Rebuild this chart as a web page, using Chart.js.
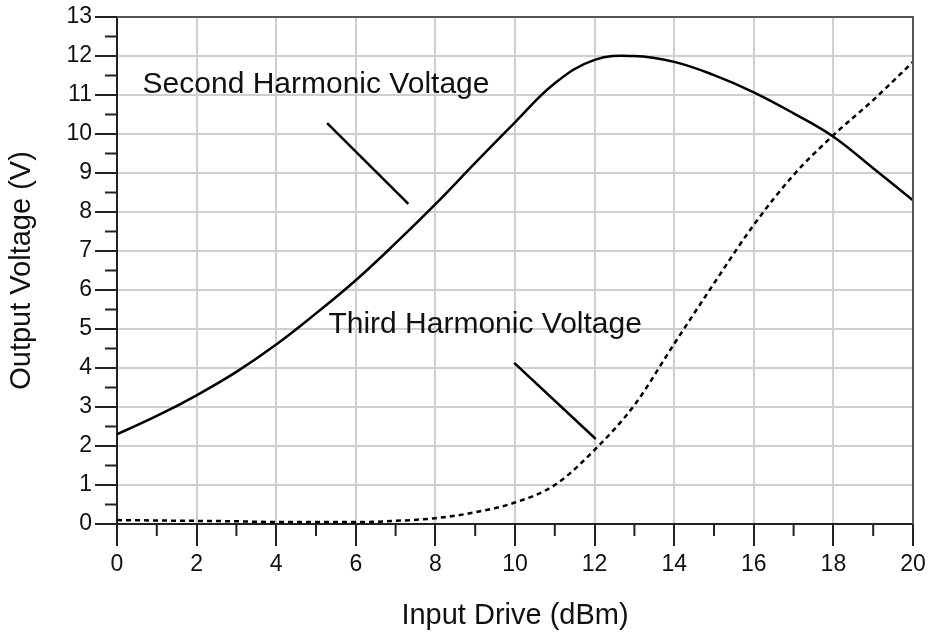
<!DOCTYPE html>
<html>
<head>
<meta charset="utf-8">
<script src="https://cdn.jsdelivr.net/npm/chart.js@4.4.1/dist/chart.umd.min.js"></script>
<style>
	html, body { margin: 0; padding: 0; background: #fff; }
	#wrap { width: 932px; height: 639px; }
</style>
</head>
<body>
<div id="wrap"><canvas id="myChart"></canvas></div>
<script>
// data
var drive = [0, 1, 2, 3, 4, 5, 6, 7, 8, 9, 10, 11, 12, 13, 14, 15, 16, 17, 18, 19, 20];
var secondHarmonic = [2.3, 2.77, 3.3, 3.9, 4.6, 5.4, 6.25, 7.2, 8.2, 9.26, 10.3, 11.3, 11.9, 12.0, 11.85, 11.51, 11.07, 10.53, 9.93, 9.12, 8.3];
var thirdHarmonic = [0.1, 0.09, 0.08, 0.07, 0.05, 0.05, 0.05, 0.08, 0.15, 0.3, 0.55, 1.0, 1.9, 3.05, 4.62, 6.17, 7.67, 8.95, 9.97, 10.87, 11.85];
var seriesNames = ['Second Harmonic Voltage', 'Third Harmonic Voltage'];

// label text positions and their pointer lines, in data units
var notes = [
	{ text: seriesNames[0], x: 5.0, y: 11.26, from: [5.28, 10.28], to: [7.32, 8.21] },
	{ text: seriesNames[1], x: 9.25, y: 5.1, from: [9.98, 4.13], to: [12.03, 2.18] }
];

var FONT = "'Liberation Sans', Arial, sans-serif";

function toPoints(ys) {
	var pts = [];
	for (var i = 0; i < drive.length; i++) {
		pts.push({ x: drive[i], y: ys[i] });
	}
	return pts;
}

// minor ticks, frame and the text labels
var extras = {
	id: 'extras',
	afterDraw: function(chart) {
		var ctx = chart.ctx;
		var xs = chart.scales.x, ys = chart.scales.y;
		var a = chart.chartArea;
		ctx.save();
		// top / right frame
		ctx.strokeStyle = '#555';
		ctx.lineWidth = 2;
		ctx.beginPath();
		ctx.moveTo(a.left, a.top);
		ctx.lineTo(a.right, a.top);
		ctx.lineTo(a.right, a.bottom);
		ctx.stroke();
		// minor ticks
		ctx.strokeStyle = '#222';
		ctx.lineWidth = 2;
		ctx.beginPath();
		for (var v = 1; v < 20; v += 2) {
			var px = xs.getPixelForValue(v);
			ctx.moveTo(px, a.bottom);
			ctx.lineTo(px, a.bottom + 12);
		}
		for (var w = 0.5; w < 13; w += 1) {
			var py = ys.getPixelForValue(w);
			ctx.moveTo(a.left, py);
			ctx.lineTo(a.left - 12, py);
		}
		ctx.stroke();
		// notes
		ctx.fillStyle = '#111';
		ctx.font = '30px ' + FONT;
		ctx.textAlign = 'center';
		ctx.textBaseline = 'middle';
		ctx.lineWidth = 2.5;
		ctx.strokeStyle = '#000';
		notes.forEach(function(n) {
			ctx.fillText(n.text, xs.getPixelForValue(n.x), ys.getPixelForValue(n.y));
			ctx.beginPath();
			ctx.moveTo(xs.getPixelForValue(n.from[0]), ys.getPixelForValue(n.from[1]));
			ctx.lineTo(xs.getPixelForValue(n.to[0]), ys.getPixelForValue(n.to[1]));
			ctx.stroke();
		});
		ctx.restore();
	}
};

const ctx = document.getElementById('myChart');
const myChart = new Chart(ctx, {
	type: 'line',
	data: {
		datasets: [{
			label: seriesNames[0],
			data: toPoints(secondHarmonic),
			borderColor: '#000',
			borderWidth: 2.5,
			pointRadius: 0,
			tension: 0.4,
			fill: false
		}, {
			label: seriesNames[1],
			data: toPoints(thirdHarmonic),
			borderColor: '#000',
			borderWidth: 2.5,
			borderDash: [5, 4],
			pointRadius: 0,
			cubicInterpolationMode: 'monotone',
			fill: false
		}]
	},
	options: {
		responsive: true,
		maintainAspectRatio: false,
		animation: false,
		layout: { padding: { left: 0, right: 19, top: 17, bottom: 0 } },
		plugins: {
			legend: { display: false },
			tooltip: { enabled: false }
		},
		scales: {
			x: {
				type: 'linear',
				min: 0,
				max: 20,
				afterFit: function(s) { s.height = 115; },
				ticks: {
					stepSize: 2,
					autoSkip: false,
					maxRotation: 0,
					padding: 5,
					color: '#111',
					font: { family: FONT, size: 23 }
				},
				grid: {
					color: '#cfcfcf',
					lineWidth: 2,
					tickColor: '#222',
					tickLength: 22
				},
				border: { color: '#222', width: 2 },
				title: {
					display: true,
					text: 'Input Drive (dBm)',
					color: '#111',
					font: { family: FONT, size: 29 },
					padding: { top: 0, bottom: 6 }
				}
			},
			y: {
				min: 0,
				max: 13,
				afterFit: function(s) { s.width = 117; },
				ticks: {
					stepSize: 1,
					padding: 3,
					color: '#111',
					font: { family: FONT, size: 23 }
				},
				grid: {
					color: '#cfcfcf',
					lineWidth: 2,
					tickColor: '#222',
					tickLength: 22
				},
				border: { color: '#222', width: 2 },
				title: {
					display: true,
					text: 'Output Voltage (V)',
					color: '#111',
					font: { family: FONT, size: 29 },
					padding: { top: 5, bottom: 0 }
				}
			}
		}
	},
	plugins: [extras]
});
</script>
</body>
</html>
